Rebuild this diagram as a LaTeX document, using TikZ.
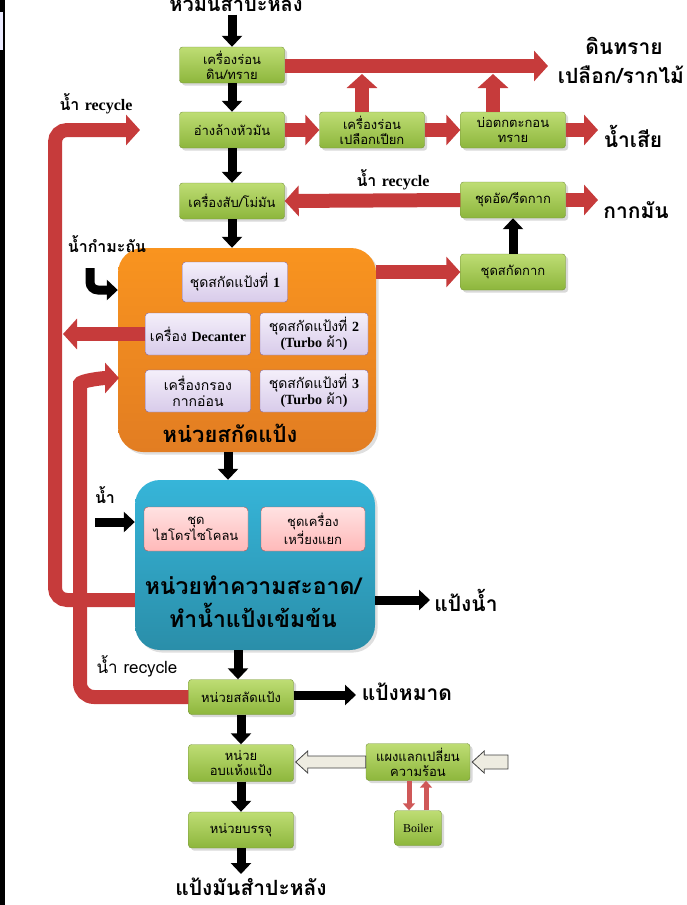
\documentclass[tikz,border=0pt]{standalone}
\usepackage{fontspec}
\setmainfont[Script=Thai]{Loma}
\newfontfamily\latfont{Liberation Serif}
\usepackage{xcolor}
\usetikzlibrary{arrows.meta,shadows,calc}

\definecolor{greentop}{HTML}{BEDD74}
\definecolor{greenbot}{HTML}{8DB63C}
\definecolor{greenedge}{HTML}{76923C}
\definecolor{purptop}{HTML}{F4EFFA}
\definecolor{purpbot}{HTML}{D8CBEA}
\definecolor{purpedge}{HTML}{8064A2}
\definecolor{pinktop}{HTML}{FFE2E2}
\definecolor{pinkbot}{HTML}{FFB9B9}
\definecolor{pinkedge}{HTML}{C0504D}
\definecolor{orangetop}{HTML}{F9941F}
\definecolor{orangebot}{HTML}{E27D22}
\definecolor{bluetop}{HTML}{36B5D9}
\definecolor{bluebot}{HTML}{2A8EA9}
\definecolor{redarr}{HTML}{C63B3B}
\definecolor{beige}{HTML}{EEECE1}

\begin{document}
\begin{tikzpicture}[x=1pt,y=-1pt,
    greenbox/.style={draw=greenedge, top color=greentop, bottom color=greenbot, rounded corners=3pt,
      minimum width=105pt, minimum height=36pt, inner sep=2pt, align=center,
      font=\fontsize{13}{15}\selectfont, drop shadow={opacity=.3}},
    purplebox/.style={draw=purpedge, top color=purptop, bottom color=purpbot, rounded corners=3pt,
      minimum width=105pt, minimum height=42pt, inner sep=2pt, align=center,
      font=\fontsize{14}{16}\selectfont},
    pinkbox/.style={draw=pinkedge, top color=pinktop, bottom color=pinkbot, rounded corners=4pt,
      minimum width=104pt, minimum height=44pt, inner sep=2pt, align=center,
      font=\fontsize{13}{14}\selectfont},
    bigbox/.style={rounded corners=25pt, drop shadow={opacity=.25}},
    biglabel/.style={font=\fontsize{22}{33}\selectfont\bfseries, align=center},
    sidelabel/.style={font=\fontsize{21}{24}\selectfont\bfseries, align=center},
    smalllabel/.style={font=\fontsize{16}{18}\selectfont\bfseries},
    redarrow/.style={draw=redarr, line width=14pt, -{Triangle[width=30pt,length=14pt]}},
    thinred/.style={draw=redarr!85, line width=5pt, -{Triangle[width=12pt,length=7pt]}},
    blackarrow/.style={draw=black, line width=9pt, -{Triangle[width=20pt,length=11pt]}},
    beigearrow/.style={draw=black!75, fill=beige, line width=0.8pt}]

  \useasboundingbox (0,0) rectangle (686,905);
  \fill[black] (0,0) rectangle (5,905);
  \fill[blue!8] (0,12) rectangle (3,50);

  % main line boxes
  \node[greenbox] (sieve) at (232,65) {เครื่องร่อน\\ดิน/ทราย};
  \node[greenbox] (wash) at (232,130) {อ่างล้างหัวมัน};
  \node[greenbox] (peel) at (372,130) {เครื่องร่อน\\เปลือกเปียก};
  \node[greenbox] (settle) at (513,130) {บ่อตกตะกอน\\ทราย};
  \node[greenbox] (grind) at (232,201) {เครื่องสับ/โม่มัน};
  \node[greenbox] (press) at (513,200) {ชุดอัด/รีดกาก};
  \node[greenbox] (pulpx) at (513,272) {ชุดสกัดกาก};

  % extraction unit
  \node[bigbox, top color=orangetop, bottom color=orangebot, minimum width=258pt, minimum height=204pt] (extract) at (247,350) {};
  \node[purplebox, minimum height=40pt] (ext1) at (235,282) {ชุดสกัดแป้งที่ {\latfont\bfseries 1}};
  \node[purplebox] (decanter) at (198,334) {เครื่อง {\latfont\bfseries Decanter}};
  \node[purplebox, minimum width=108pt] (ext2) at (314,334) {ชุดสกัดแป้งที่ {\latfont\bfseries 2}\\{\latfont\bfseries (Turbo} ผ้า{\latfont\bfseries )}};
  \node[purplebox] (filter) at (198,391) {เครื่องกรอง\\กากอ่อน};
  \node[purplebox, minimum width=108pt] (ext3) at (314,391) {ชุดสกัดแป้งที่ {\latfont\bfseries 3}\\{\latfont\bfseries (Turbo} ผ้า{\latfont\bfseries )}};
  \node[biglabel] (extractlbl) at (230,433) {หน่วยสกัดแป้ง};

  % cleaning unit
  \node[bigbox, top color=bluetop, bottom color=bluebot, minimum width=240pt, minimum height=170pt] (clean) at (255,565) {};
  \node[pinkbox] (cyclone) at (196,529) {ชุด\\ไฮโดรไซโคลน};
  \node[pinkbox] (centri) at (313,529) {ชุดเครื่อง\\เหวี่ยงแยก};
  \node[biglabel, font=\fontsize{23}{33}\selectfont\bfseries] (cleanlbl) at (253,602) {หน่วยทำความสะอาด/\\ทำน้ำแป้งเข้มข้น};

  % drying line
  \node[greenbox, minimum height=35pt] (dewater) at (241,697) {หน่วยสลัดแป้ง};
  \node[greenbox, minimum height=37pt] (dryer) at (241,763) {หน่วย\\อบแห้งแป้ง};
  \node[greenbox, minimum width=104pt, minimum height=37pt] (hx) at (418,762) {แผงแลกเปลี่ยน\\ความร้อน};
  \node[greenbox, minimum width=47pt, minimum height=35pt, font=\latfont\fontsize{12}{13}\selectfont] (boiler) at (418,828) {Boiler};
  \node[greenbox] (pack) at (241,830) {หน่วยบรรจุ};

  % texts
  \node[sidelabel, font=\fontsize{20}{24}\selectfont\bfseries] (raw) at (236,3) {หัวมันสำปะหลัง};
  \node[sidelabel] (soil) at (624,46) {ดินทราย};
  \node[sidelabel] (husk) at (621,75) {เปลือก/รากไม้};
  \node[sidelabel] (waste) at (633,136) {น้ำเสีย};
  \node[sidelabel] (pulp) at (636,210) {กากมัน};
  \node[smalllabel] (rec1) at (96,104) {น้ำ {\latfont recycle}};
  \node[smalllabel] (rec2) at (393,180) {น้ำ {\latfont recycle}};
  \node[smalllabel] (sulf) at (107,244) {น้ำกำมะถัน};
  \node[smalllabel] (water) at (105,495) {น้ำ};
  \node[sidelabel] (slurry) at (466,600) {แป้งน้ำ};
  \node[smalllabel, font=\fontsize{17}{18}\selectfont] (rec3) at (137,666) {น้ำ recycle};
  \node[sidelabel] (wetst) at (407,692) {แป้งหมาด};
  \node[sidelabel] (product) at (251,887) {แป้งมันสำปะหลัง};

  \coordinate (soilend) at (548,66);
  \coordinate (up1) at (362,74);
  \coordinate (up2) at (493,74);
  \coordinate (wasteend) at (598,130);
  \coordinate (pulpend) at (598,200);
  \coordinate (loopA) at (55,130);
  \coordinate (recTip) at (140,130);
  \coordinate (loopC) at (80,398);
  \coordinate (innerTip) at (119,378);
  \coordinate (sulfin) at (90,268);
  \coordinate (waterin) at (95,522);
  \coordinate (heatin) at (508,762);
  \coordinate (slurryend) at (430,600);
  \coordinate (wetend) at (356,695);
  \coordinate (packend) at (241,874);

  % red flows
  \draw[redarrow] (sieve.east |- soilend) -- (soilend);
  \draw[redarrow] (up1 |- peel.north) -- (up1);
  \draw[redarrow] (up2 |- settle.north) -- (up2);
  \draw[redarrow] (wash.east) -- (peel.west);
  \draw[redarrow] (peel.east) -- (settle.west);
  \draw[redarrow] (settle.east) -- (wasteend);
  \draw[redarrow] (press.west) -- (grind.east);
  \draw[redarrow] (press.east) -- (pulpend);
  \draw[redarrow] (extract.east |- pulpx.west) -- (pulpx.west);
  \draw[redarrow, rounded corners=12pt] (clean.west |- slurryend) -- (loopA |- slurryend) -- (loopA) -- (recTip);
  \draw[redarrow] (decanter.west) -- ($(decanter.west -| loopA)+(8,0)$);
  \draw[redarrow, rounded corners=14pt] (dewater.west) -| (loopC) to[out=90,in=180] (innerTip);
  \draw[thinred] ($(hx.south)+(-9,0)$) -- ($(boiler.north)+(-9,0)$);
  \draw[thinred] ($(boiler.north)+(8,0)$) -- ($(hx.south)+(8,0)$);

  % black flows
  \draw[blackarrow] (raw.south -| sieve.north) -- (sieve.north);
  \draw[blackarrow] (sieve) -- (wash);
  \draw[blackarrow] (wash) -- (grind);
  \draw[blackarrow] (grind.south) -- (grind.south |- extract.north);
  \draw[blackarrow] (pulpx) -- (press);
  \draw[blackarrow, rounded corners=8pt] (sulfin) |- ($(extract.west)+(0,-60)$);
  \draw[blackarrow] ($(extract.south)+(-19,0)$) -- ($(extract.south |- clean.north)+(-19,0)$);
  \draw[blackarrow] (waterin) -- (waterin -| clean.west);
  \draw[blackarrow] (clean.east |- slurryend) -- (slurryend);
  \draw[blackarrow] ($(clean.south)+(-17,0)$) -- ($(clean.south |- dewater.north)+(-17,0)$);
  \draw[blackarrow] (dewater.east |- wetend) -- (wetend);
  \draw[blackarrow] (dewater) -- (dryer);
  \draw[blackarrow] (dryer) -- (pack);
  \draw[blackarrow] (pack.south) -- (packend);

  % heat flows
  \draw[beigearrow] let \p1=(hx.west), \p2=(dryer.east) in
    (\x1,\y1+6pt) -- (\x2+14pt,\y1+6pt) -- (\x2+14pt,\y1+11pt) -- (\x2+2pt,\y1)
    -- (\x2+14pt,\y1-11pt) -- (\x2+14pt,\y1-6pt) -- (\x1,\y1-6pt) -- cycle;
  \draw[beigearrow] let \p1=(heatin), \p2=(hx.east) in
    (\x1,\y1+7pt) -- (\x2+14pt,\y1+7pt) -- (\x2+14pt,\y1+11pt) -- (\x2+2pt,\y1)
    -- (\x2+14pt,\y1-11pt) -- (\x2+14pt,\y1-7pt) -- (\x1,\y1-7pt) -- cycle;
\end{tikzpicture}
\end{document}
